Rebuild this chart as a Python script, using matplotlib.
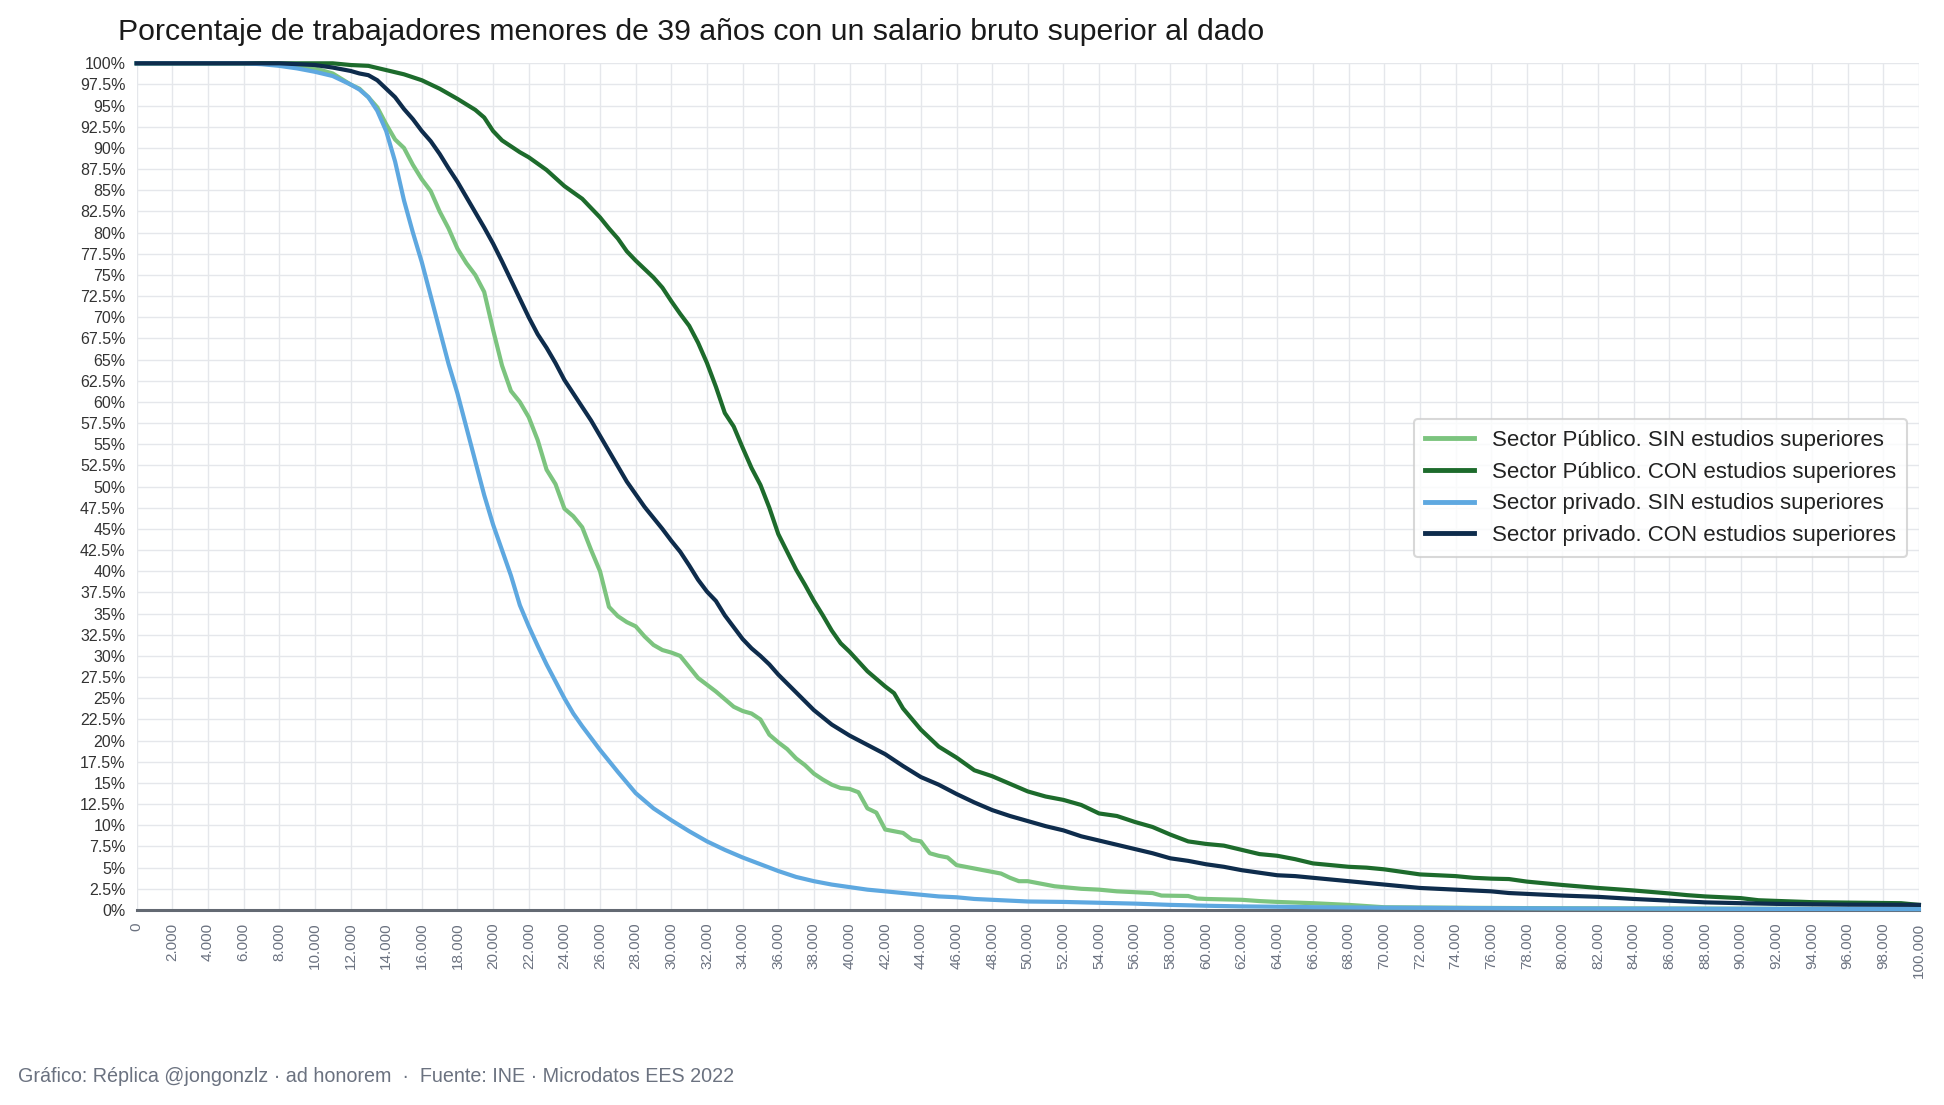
import matplotlib
matplotlib.use("Agg")
import matplotlib.pyplot as plt
from matplotlib.ticker import FixedLocator, FuncFormatter

plt.rcParams['font.family'] = ['Liberation Sans', 'DejaVu Sans']

# ---------------- DATA ----------------
labels = [
    "Sector Público. SIN estudios superiores",
    "Sector Público. CON estudios superiores",
    "Sector privado. SIN estudios superiores",
    "Sector privado. CON estudios superiores",
]

pub_sin_x = [0, 7000, 8000, 9000, 10000, 11000, 12000, 12500, 13000, 13500, 14000, 14500, 15000, 15500,
             16000, 16500, 17000, 17500, 18000, 18500, 19000, 19500, 20000, 20500, 21000, 21500, 22000,
             22500, 23000, 23500, 24000, 24500, 25000, 25500, 26000, 26500, 27000, 27500, 28000, 28500,
             29000, 29500, 30000, 30500, 31000, 31500, 32000, 32500, 33000, 33500, 34000, 34500, 35000,
             35500, 36000, 36500, 37000, 37500, 38000, 38500, 39000, 39500, 40000, 40500, 41000, 41500,
             42000, 43000, 43500, 44000, 44500, 45000, 45500, 46000, 47000, 48000, 48500, 49000, 49500,
             50000, 51000, 51500, 52000, 53000, 54000, 55000, 56000, 57000, 57500, 59000, 59500, 60000,
             62000, 63000, 64000, 66000, 68000, 70000, 75000, 80000, 90000, 100000]
pub_sin_y = [100, 100, 99.9, 99.7, 99.4, 98.8, 97.5, 97.0, 96.0, 94.8, 92.8, 91.0, 90.0, 88.0,
             86.3, 84.9, 82.5, 80.5, 78.1, 76.4, 75.0, 73.0, 68.5, 64.3, 61.3, 60.0, 58.2,
             55.5, 52.0, 50.3, 47.4, 46.5, 45.2, 42.5, 40.0, 35.8, 34.7, 34.0, 33.5, 32.3,
             31.3, 30.7, 30.4, 30.0, 28.7, 27.4, 26.6, 25.8, 24.9, 24.0, 23.5, 23.2, 22.5,
             20.7, 19.8, 19.0, 17.9, 17.1, 16.1, 15.4, 14.8, 14.4, 14.3, 13.9, 12.0, 11.5,
             9.5, 9.1, 8.3, 8.1, 6.7, 6.4, 6.2, 5.3, 4.9, 4.5, 4.3, 3.8, 3.4,
             3.4, 3.0, 2.8, 2.7, 2.5, 2.4, 2.2, 2.1, 2.0, 1.7, 1.65, 1.35, 1.3,
             1.2, 1.05, 0.95, 0.8, 0.6, 0.32, 0.25, 0.2, 0.15, 0.12]

pub_con_x = [0, 11000, 12000, 13000, 14000, 15000, 16000, 17000, 18000, 19000, 19500, 20000, 20500,
             21000, 21500, 22000, 23000, 24000, 25000, 26000, 26500, 27000, 27500, 28000, 29000, 29500,
             30000, 30500, 31000, 31500, 32000, 32500, 33000, 33500, 34000, 34500, 35000, 35500, 36000,
             36500, 37000, 37500, 38000, 38500, 39000, 39500, 40000, 41000, 42000, 42500, 43000, 44000,
             45000, 46000, 47000, 48000, 49000, 50000, 51000, 52000, 53000, 54000, 55000, 56000, 57000,
             58000, 59000, 60000, 61000, 62000, 63000, 64000, 65000, 66000, 67000, 68000, 69000, 70000,
             71000, 72000, 73000, 74000, 75000, 76000, 77000, 78000, 80000, 82000, 84000, 86000, 87000,
             88000, 90000, 91000, 92000, 94000, 96000, 99000, 100000]
pub_con_y = [100, 100, 99.8, 99.7, 99.2, 98.7, 98.0, 97.0, 95.8, 94.5, 93.6, 92.0, 90.9,
             90.2, 89.5, 88.9, 87.4, 85.5, 84.0, 81.8, 80.5, 79.3, 77.8, 76.7, 74.7, 73.5,
             71.9, 70.4, 69.0, 67.0, 64.6, 61.8, 58.7, 57.1, 54.6, 52.2, 50.2, 47.5, 44.4,
             42.3, 40.2, 38.4, 36.5, 34.8, 33.0, 31.5, 30.5, 28.2, 26.4, 25.6, 23.8, 21.3,
             19.3, 18.0, 16.5, 15.8, 14.9, 14.0, 13.4, 13.0, 12.4, 11.4, 11.1, 10.4, 9.8,
             8.9, 8.1, 7.8, 7.6, 7.1, 6.6, 6.4, 6.0, 5.5, 5.3, 5.1, 5.0, 4.8,
             4.5, 4.2, 4.1, 4.0, 3.8, 3.7, 3.65, 3.35, 2.95, 2.6, 2.3, 1.95, 1.75,
             1.6, 1.4, 1.15, 1.07, 0.92, 0.87, 0.8, 0.6]

priv_sin_x = [0, 6000, 7000, 8000, 9000, 10000, 11000, 12000, 12500, 13000, 13500, 14000, 14500, 15000,
              15500, 16000, 16500, 17000, 17500, 18000, 18500, 19000, 19500, 20000, 20500, 21000, 21500,
              22000, 22500, 23000, 23500, 24000, 24500, 25000, 25500, 26000, 27000, 28000, 29000, 30000,
              31000, 32000, 33000, 34000, 35000, 36000, 37000, 38000, 39000, 40000, 41000, 42000, 43000,
              44000, 45000, 46000, 47000, 48000, 49000, 50000, 52000, 54000, 56000, 58000, 60000, 62000,
              64000, 66000, 68000, 70000, 75000, 80000, 90000, 100000]
priv_sin_y = [100, 100, 99.9, 99.7, 99.4, 99.0, 98.5, 97.5, 96.9, 96.0, 94.4, 92.0, 88.4, 83.8,
              80.0, 76.5, 72.5, 68.5, 64.5, 61.0, 57.0, 53.0, 49.0, 45.5, 42.5, 39.5, 36.0,
              33.5, 31.2, 29.0, 27.0, 25.0, 23.2, 21.7, 20.3, 18.9, 16.3, 13.8, 12.0, 10.6,
              9.3, 8.1, 7.1, 6.2, 5.4, 4.6, 3.9, 3.4, 3.0, 2.7, 2.4, 2.2, 2.0,
              1.8, 1.6, 1.5, 1.3, 1.2, 1.1, 1.0, 0.95, 0.85, 0.75, 0.6, 0.5, 0.42,
              0.38, 0.33, 0.3, 0.27, 0.22, 0.18, 0.13, 0.1]

priv_con_x = [0, 8000, 9000, 10000, 11000, 12000, 12500, 13000, 13500, 14000, 14500, 15000, 15500, 16000,
              16500, 17000, 17500, 18000, 18500, 19000, 19500, 20000, 20500, 21000, 21500, 22000, 22500,
              23000, 23500, 24000, 24500, 25000, 25500, 26000, 26500, 27000, 27500, 28000, 28500, 29000,
              29500, 30000, 30500, 31000, 31500, 32000, 32500, 33000, 33500, 34000, 34500, 35000, 35500,
              36000, 37000, 38000, 39000, 40000, 41000, 42000, 43000, 44000, 45000, 46000, 47000, 48000,
              49000, 50000, 51000, 52000, 53000, 54000, 55000, 56000, 57000, 58000, 59000, 60000, 61000,
              62000, 63000, 64000, 65000, 66000, 67000, 68000, 69000, 70000, 71000, 72000, 73000, 74000,
              75000, 76000, 77000, 78000, 79000, 80000, 82000, 84000, 86000, 88000, 90000, 92000, 94000,
              96000, 100000]
priv_con_y = [100, 100, 99.9, 99.8, 99.5, 99.1, 98.8, 98.6, 98.0, 97.0, 96.0, 94.6, 93.4, 92.0,
              90.8, 89.3, 87.6, 86.0, 84.2, 82.4, 80.6, 78.7, 76.6, 74.4, 72.2, 70.0, 68.0,
              66.4, 64.6, 62.6, 61.0, 59.4, 57.8, 56.0, 54.2, 52.4, 50.6, 49.1, 47.6, 46.3,
              45.0, 43.6, 42.3, 40.7, 39.0, 37.6, 36.5, 34.8, 33.4, 32.0, 30.9, 30.0, 29.0,
              27.8, 25.7, 23.6, 21.9, 20.6, 19.5, 18.4, 17.0, 15.7, 14.8, 13.7, 12.7, 11.8,
              11.1, 10.5, 9.9, 9.4, 8.7, 8.2, 7.7, 7.2, 6.7, 6.1, 5.8, 5.4, 5.1,
              4.7, 4.4, 4.1, 4.0, 3.8, 3.6, 3.4, 3.2, 3.0, 2.8, 2.6, 2.5, 2.4,
              2.3, 2.2, 2.0, 1.9, 1.8, 1.7, 1.55, 1.3, 1.1, 0.9, 0.8, 0.72, 0.67,
              0.63, 0.6]

colors = ["#7cc47f", "#1d6b2c", "#5ea8e0", "#0e2c4c"]

x_ticks = list(range(0, 100001, 2000))
y_ticks = [i * 2.5 for i in range(41)]

title = "Porcentaje de trabajadores menores de 39 años con un salario bruto superior al dado"
footer = "Gráfico: Réplica @jongonzlz · ad honorem  ·  Fuente: INE · Microdatos EES 2022"

# ---------------- PLOT ----------------
fig = plt.figure(figsize=(19.44, 11.05), dpi=100)
ax = fig.add_axes([0.0703, 0.1765, 0.9168, 0.7662])

series = [(pub_sin_x, pub_sin_y), (pub_con_x, pub_con_y),
          (priv_sin_x, priv_sin_y), (priv_con_x, priv_con_y)]
for (xs, ys), c, lab in zip(series, colors, labels):
    ax.plot(xs, ys, color=c, lw=3.0, label=lab, clip_on=False, solid_joinstyle='round', zorder=3)

ax.set_xlim(0, 100000)
ax.set_ylim(0, 100)
ax.xaxis.set_major_locator(FixedLocator(x_ticks))
ax.yaxis.set_major_locator(FixedLocator(y_ticks))


def fmt_x(v, pos):
    return f"{int(v):,}".replace(",", ".")


def fmt_y(v, pos):
    s = f"{v:.1f}".rstrip("0").rstrip(".")
    return s + "%"


ax.xaxis.set_major_formatter(FuncFormatter(fmt_x))
ax.yaxis.set_major_formatter(FuncFormatter(fmt_y))
ax.tick_params(axis='x', length=0, pad=9, labelsize=11, labelcolor="#6b7280", labelrotation=90)
ax.tick_params(axis='y', length=0, pad=8, labelsize=11.5, labelcolor="#333333")
for lab in ax.get_xticklabels():
    lab.set_verticalalignment('top')

ax.grid(True, color="#e5e7eb", lw=1.0, zorder=0)
ax.set_axisbelow(True)
for s in ["top", "right", "left"]:
    ax.spines[s].set_visible(False)
ax.spines["bottom"].set_color("#636972")
ax.spines["bottom"].set_linewidth(2.2)
ax.spines["bottom"].set_zorder(2)

leg = ax.legend(loc="upper right", bbox_to_anchor=(0.9933, 0.58), borderaxespad=0,
                fontsize=16, frameon=True, fancybox=True, handlelength=2.2,
                labelspacing=0.48, borderpad=0.5, handletextpad=0.8)
leg.get_frame().set_edgecolor("#cfcfcf")
leg.get_frame().set_linewidth(1.5)
for t in leg.get_texts():
    t.set_color("#222222")
for h in leg.get_lines():
    h.set_linewidth(3.5)

fig.text(0.0607, 0.971, title, fontsize=21.8, color="#1a1a1a", ha="left", va="center")
fig.text(0.0093, 0.026, footer, fontsize=14.2, color="#6b7280", ha="left", va="center")

fig.savefig("out.png", dpi=100)
